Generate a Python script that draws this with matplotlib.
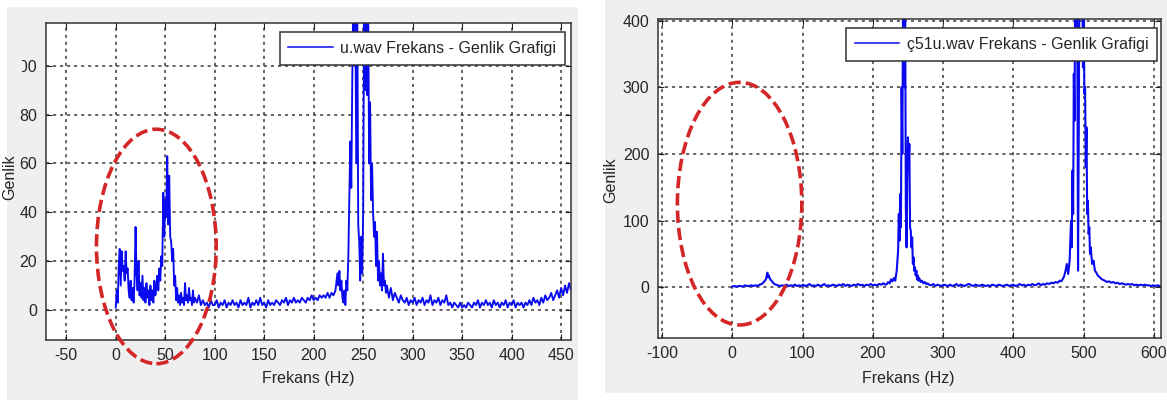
import matplotlib
matplotlib.use('Agg')
import matplotlib.pyplot as plt
from matplotlib.patches import Ellipse, Rectangle

# ---------------- data ----------------
left_low = [(0,1),(1,8),(2,3),(3,18),(4,25),(5,10),(6,24),(7,16),(8,18),(9,12),(10,24),
            (11,15),(12,17),(13,8),(14,5),(15,12),(16,4),(17,9),(18,3),(19,12),(20,34),
            (21,15),(22,8),(23,20),(24,6),(25,11),(26,5),(27,14),(28,4),(29,9),(30,3),
            (31,11),(32,5),(33,8),(34,2),(35,10),(36,4),(37,8),(38,3),(39,12),(40,6),
            (41,9),(42,14),(43,8),(44,17),(45,12),(46,22),(47,18),(48,48),(49,30),(50,45),
            (51,38),(52,63),(53,35),(54,55),(55,30),(56,28),(57,20),(58,25),(59,10),(60,14),
            (61,4),(62,9),(63,3),(64,6),(65,2),(66,7),(67,3),(68,5),(69,2),(70,11),
            (71,4),(72,6),(73,3),(74,9),(75,4),(76,5),(77,2),(78,8),(79,3),(80,5),
            (82,3),(84,6),(86,2),(88,4),(90,2),(92,3),(94,1),(96,4),(98,2)]
left_mid = [(100,2),(102,4),(104,1),(106,3),(108,2),(110,4),(112,1),(114,3),(116,2),(118,4),
            (120,2),(122,3),(124,1),(126,4),(128,2),(130,3),(132,2),(134,5),(136,1),(138,3),
            (140,2),(142,4),(144,2),(146,5),(148,2),(150,3),(152,1),(154,4),(156,2),(158,3),
            (160,2),(162,4),(164,3),(166,2),(168,4),(170,3),(172,5),(174,2),(176,4),(178,3),
            (180,5),(182,3),(184,4),(186,3),(188,5),(190,4),(192,3),(194,5),(196,4),(198,6),
            (200,4),(202,5),(204,4),(206,6),(208,5),(210,6),(212,5),(214,7),(216,5),(218,7),
            (220,6),(222,8),(224,15),(225,10),(226,16),(227,8),(228,12),(229,5),(230,3),(231,8)]
left_peak = [(232,2),(233,12),(234,8),(235,22),(236,45),(237,69),(238,50),(239,95),(240,130),
             (241,100),(242,130),(243,60),(244,130),(245,35),(246,28),(247,12),(248,30),(249,15),
             (250,40),(251,130),(252,90),(253,130),(254,88),(255,130),(256,60),(257,85),(258,45),
             (259,60),(260,40),(261,30),(262,36),(263,18),(264,32),(265,12),(266,20),(267,10),
             (268,15),(269,8),(270,23),(271,10),(272,12),(273,7),(274,10),(276,5),(278,9),
             (280,4),(282,7)]
left_high = [(284,5),(286,3),(288,6),(290,4),(292,3),(294,5),(296,2),(298,4),(300,3),(302,5),
             (304,2),(306,4),(308,3),(310,5),(312,2),(314,4),(316,3),(318,6),(320,2),(322,4),
             (324,3),(326,5),(328,2),(330,4),(332,3),(334,6),(336,2),(338,3),(340,1),(342,3),
             (344,2),(346,1),(348,3),(350,1),(352,2),(354,1),(356,3),(358,2),(360,1),(362,3),
             (364,2),(366,4),(368,1),(370,3),(372,2),(374,4),(376,2),(378,3),(380,1),(382,4),
             (384,2),(386,3),(388,1),(390,3),(392,2),(394,4),(396,1),(398,3),(400,2),(402,4),
             (404,1),(406,3),(408,2),(410,3),(412,1),(414,3),(416,2),(418,4),(420,2),(422,5),
             (424,3),(426,4),(428,2),(430,5),(432,3),(434,6),(436,4),(438,5),(440,7),(442,4),
             (444,6),(446,8),(448,5),(450,9),(452,6),(454,10),(456,7),(458,11),(460,8)]

right_low = [(0,1),(3,2),(6,1),(9,2),(12,2),(15,1),(18,3),(21,2),(24,2),(27,3),(30,2),(33,3),
             (36,2),(39,4),(42,5),(45,8),(48,12),(50,22),(51,15),(52,18),(54,12),(56,10),(58,7),
             (60,5),(62,4),(65,3),(68,2),(71,3),(74,2),(77,4),(80,2),(83,3),(86,2),(89,4),
             (92,2),(95,3),(98,2),(101,4),(104,2),(107,3),(110,5),(113,2),(116,3),(119,2),
             (122,4),(125,2),(128,3),(131,5),(134,2),(137,3),(140,2),(143,4),(146,3),(149,2),
             (152,4),(155,3),(158,5),(161,2),(164,4),(167,3),(170,2),(173,4),(176,3),(179,5),
             (182,3),(185,4),(188,2),(191,4),(194,3),(197,5),(200,3),(203,4),(206,3),(209,5),
             (212,4),(215,6),(218,4)]
right_peak1 = [(220,5),(222,8),(224,6),(226,12),(228,9),(230,14),(232,10),(234,25),(235,40),
               (236,55),(237,110),(238,70),(239,140),(240,90),(241,300),(242,200),(243,430),
               (244,460),(245,300),(246,440),(247,120),(248,60),(249,160),(250,225),(251,180),
               (252,215),(253,90),(254,85),(255,60),(256,75),(257,35),(258,45),(259,25),
               (260,30),(261,18),(262,25),(263,12),(264,18),(265,10),(266,14),(268,8),(270,10),
               (272,6),(274,8),(276,5),(278,6)]
right_mid = [(280,4),(283,3),(286,5),(289,2),(292,4),(295,3),(298,2),(301,4),(304,3),(307,2),
             (310,4),(313,2),(316,3),(319,5),(322,2),(325,4),(328,3),(331,2),(334,4),(337,5),
             (340,3),(343,2),(346,4),(349,3),(352,2),(355,4),(358,3),(361,2),(364,3),(367,2),
             (370,4),(373,3),(376,2),(379,4),(382,3),(385,2),(388,3),(391,4),(394,2),(397,3),
             (400,4),(403,2),(406,3),(409,5),(412,3),(415,4),(418,2),(421,4),(424,3),(427,5),
             (430,3),(433,4),(436,6),(439,3),(442,5),(445,4),(448,6),(451,5),(454,7),(457,6),
             (460,8),(463,7),(466,10),(468,9)]
right_peak2 = [(470,12),(472,16),(474,24),(476,35),(478,20),(480,40),(482,100),(483,60),
               (484,175),(485,110),(486,320),(487,250),(488,470),(489,420),(490,480),(491,340),
               (492,25),(493,230),(494,480),(495,460),(496,480),(497,470),(498,480),(499,330),
               (500,420),(501,290),(502,300),(503,180),(504,240),(505,110),(506,130),(507,80),
               (508,90),(509,50),(510,60),(512,35),(514,40),(516,25),(518,22),(520,18),
               (523,15),(526,12),(530,10),(533,8),(536,9)]
right_high = [(539,7),(542,8),(545,6),(548,7),(551,5),(554,6),(557,5),(560,4),(563,5),(566,4),
              (569,5),(572,3),(575,4),(578,3),(581,4),(584,3),(587,4),(590,3),(593,3),(596,2),
              (599,3),(602,2),(605,3),(608,2),(610,2)]

left_xticks = [-50, 0, 50, 100, 150, 200, 250, 300, 350, 400, 450]
left_yticks = [0, 20, 40, 60, 80, 100]
right_xticks = [-100, 0, 100, 200, 300, 400, 500, 600]
right_yticks = [0, 100, 200, 300, 400]
left_legend = 'u.wav Frekans - Genlik Grafigi'
right_legend = 'ç51u.wav Frekans - Genlik Grafigi'
xlabel_text = 'Frekans (Hz)'
ylabel_text = 'Genlik'

# ---------------- drawing ----------------
FAM = ['Liberation Sans', 'DejaVu Sans']
plt.rcParams['font.family'] = FAM
plt.rcParams['axes.unicode_minus'] = False
W, H = 1167, 405
PANEL = '#efefef'
TXT = '#262626'
FS = 11.5
BLUE = '#0a0af0'

fig = plt.figure(figsize=(W / 100, H / 100), dpi=100)
fig.patch.set_facecolor('white')


def px_rect(x0, y0, x1, y1, color, z):
    fig.patches.append(Rectangle((x0 / W, 1 - y1 / H), (x1 - x0) / W, (y1 - y0) / H,
                                 transform=fig.transFigure, facecolor=color,
                                 edgecolor='none', zorder=z))


px_rect(7, 7, 578, 400, PANEL, -10)
px_rect(605, 0, 1167, 393, PANEL, -10)


def make_axes(x0, y0, x1, y1):
    return fig.add_axes([x0 / W, 1 - y1 / H, (x1 - x0) / W, (y1 - y0) / H])


def style(ax, xticks, yticks, xlim, ylim):
    ax.set_facecolor('white')
    ax.set_xlim(xlim)
    ax.set_ylim(ylim)
    ax.set_xticks(xticks)
    ax.set_yticks(yticks)
    ax.set_axisbelow(True)
    ax.grid(True, color='#3a3a3a', linestyle=(0, (2.0, 2.6)), linewidth=1.1)
    ax.tick_params(direction='in', top=True, right=True, length=4, width=0.8,
                   labelsize=FS, pad=6, colors='#222222', labelcolor=TXT)
    for s in ax.spines.values():
        s.set_color('#333333')
        s.set_linewidth(1.1)


def unzip(*segments):
    f, a = [], []
    for seg in segments:
        for fr, am in seg:
            f.append(fr)
            a.append(am)
    return f, a


def add_legend(ax, anchor):
    leg = ax.legend(loc='upper right', bbox_to_anchor=anchor, fontsize=FS,
                    frameon=True, fancybox=False, edgecolor='#333333', framealpha=1,
                    handlelength=2.8, borderpad=0.55, handletextpad=0.45, borderaxespad=0)
    leg.get_frame().set_linewidth(1.1)
    for t in leg.get_texts():
        t.set_color(TXT)
    for ln in leg.get_lines():
        ln.set_linewidth(1.1)
    return leg


# left panel
ax1 = make_axes(45.5, 23, 571, 340)
lf, la = unzip(left_low, left_mid, left_peak, left_high)
ax1.plot(lf, la, color=BLUE, linewidth=1.35, label=left_legend)
style(ax1, left_xticks, left_yticks, (-71, 460), (-12.3, 117.5))
add_legend(ax1, (0.9886, 0.9716))
ax1.add_patch(Ellipse((41, 26), 121, 96, fill=False, edgecolor='#d42626',
                      linewidth=2.6, linestyle=(0, (3.4, 1.4)), clip_on=False, zorder=6))
fig.text(308 / W, 1 - 379 / H, xlabel_text, ha='center', va='center', fontsize=FS, color=TXT)
fig.text(10 / W, 1 - 177 / H, ylabel_text, ha='center', va='center', fontsize=FS,
         color=TXT, rotation=90)

# right panel
ax2 = make_axes(657.7, 19, 1161, 338)
rf, ra = unzip(right_low, right_peak1, right_mid, right_peak2, right_high)
ax2.plot(rf, ra, color=BLUE, linewidth=1.5, label=right_legend)
style(ax2, right_xticks, right_yticks, (-106, 610), (-76, 402.5))
add_legend(ax2, (0.992, 0.972))
ax2.add_patch(Ellipse((10.5, 125.5), 177, 364, fill=False, edgecolor='#d42626',
                      linewidth=2.6, linestyle=(0, (3.4, 1.4)), clip_on=False, zorder=6))
fig.text(908 / W, 1 - 378 / H, xlabel_text, ha='center', va='center', fontsize=FS, color=TXT)
fig.text(611 / W, 1 - 180 / H, ylabel_text, ha='center', va='center', fontsize=FS,
         color=TXT, rotation=90)

# the reference crop cuts off the leading digit of the top left tick label
px_rect(7, 55, 22, 80, PANEL, 10)

fig.savefig('out.png', dpi=100, facecolor='white')
